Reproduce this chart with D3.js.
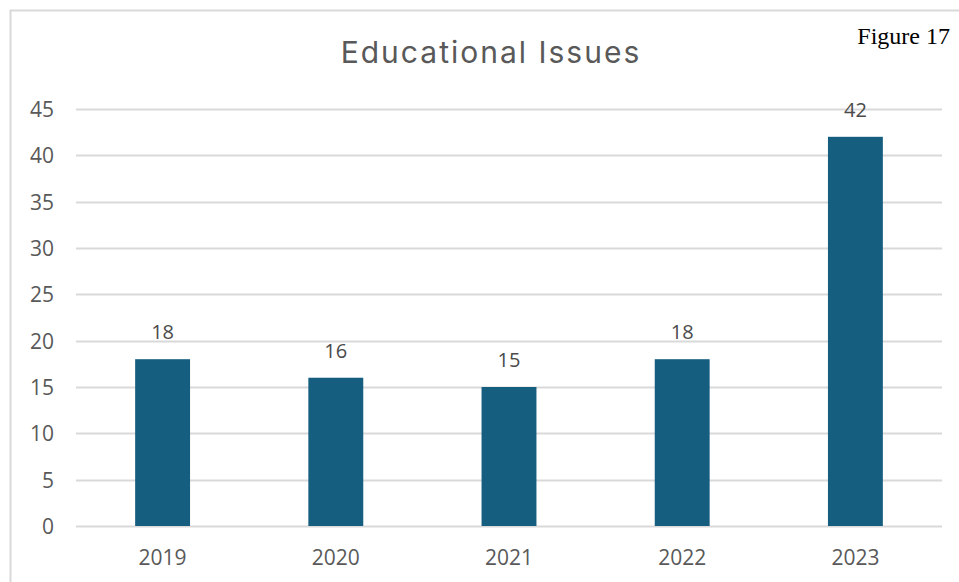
<!DOCTYPE html>
<html><head><meta charset="utf-8">
<script src="https://cdn.jsdelivr.net/npm/d3@7"></script>
<style>body{margin:0;background:#fff}</style>
</head><body>
<svg id="c" width="959" height="582"></svg>
<script>
const categories = ["2019","2020","2021","2022","2023"];
const values = [18,16,15,18,42];
const yTicks = [0,5,10,15,20,25,30,35,40,45];
const title = "Educational Issues";
const figLabel = "Figure 17";

const svg = d3.select("#c");
const W = 959, H = 582;
const m = {left:76, right:17, top:109, bottom:56};
const x = d3.scaleBand().domain(categories).range([m.left, W - m.right]).paddingInner(0.683).paddingOuter(0.3415);
const y = d3.scaleLinear().domain([0,45]).range([H - m.bottom, m.top]);
const font = "'Open Sans', sans-serif";

// frame
svg.append("path").attr("d", `M10.5,${H} V10.5 H${W}`).attr("fill","none").attr("stroke","#d9d9d9").attr("stroke-width",2);

// gridlines
svg.append("g").selectAll("line").data(yTicks).join("line")
  .attr("x1", m.left).attr("x2", W - m.right)
  .attr("y1", d => Math.round(y(d)) + 0.5).attr("y2", d => Math.round(y(d)) + 0.5)
  .attr("stroke","#d9d9d9").attr("stroke-width",2);

// y axis labels
const yAxis = d3.axisLeft(y).tickValues(yTicks).tickSize(0).tickPadding(0);
const gy = svg.append("g").attr("transform",`translate(54,0)`).call(yAxis);
gy.select(".domain").remove();
gy.selectAll("text").attr("font-family",font).attr("font-size",21).attr("fill","#595959").attr("dy","0.36em");

// x axis labels
const xAxis = d3.axisBottom(x).tickSize(0).tickPadding(0);
const gx = svg.append("g").attr("transform",`translate(0,${H - m.bottom})`).call(xAxis);
gx.select(".domain").remove();
gx.selectAll("text").attr("font-family",font).attr("font-size",21).attr("fill","#595959").attr("y",39).attr("dy",0);

// bars
svg.append("g").selectAll("rect").data(values).join("rect")
  .attr("x", (d,i) => x(categories[i]))
  .attr("width", x.bandwidth())
  .attr("y", d => y(d))
  .attr("height", d => y(0) - y(d))
  .attr("fill","#165e7f");

// data labels
svg.append("g").selectAll("text").data(values).join("text")
  .attr("x", (d,i) => x(categories[i]) + x.bandwidth()/2)
  .attr("y", d => y(d) - 20)
  .attr("text-anchor","middle")
  .attr("font-family",font).attr("font-size",20).attr("fill","#4a4a4a")
  .text(d => d);

// title
svg.append("text").attr("x", 491).attr("y", 63).attr("text-anchor","middle")
  .attr("font-family","Inter, 'Open Sans', sans-serif").attr("font-size",30).attr("letter-spacing","2px").attr("fill","#595959").text(title);

svg.append("text").attr("x", 950).attr("y", 44).attr("text-anchor","end")
  .attr("font-family","'Liberation Serif', serif").attr("font-size",24).attr("fill","#000").text(figLabel);
</script>
</body></html>
